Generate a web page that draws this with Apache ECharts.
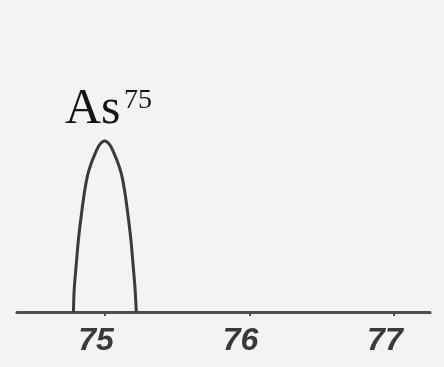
<!DOCTYPE html>
<html>
<head>
<meta charset="utf-8">
<script src="https://cdn.jsdelivr.net/npm/echarts@6/dist/echarts.min.js"></script>
<style>
  html, body { margin: 0; padding: 0; background: #f3f3f1; }
  #chart { width: 444px; height: 367px; }
</style>
</head>
<body>
<div id="chart"></div>
<script>
// mass / charge positions of the peak outline, and its relative intensity
const peakMz = [74.781, 74.786, 74.800, 74.815, 74.836, 74.859, 74.879, 74.900, 74.928, 74.959, 74.997,
  75.035, 75.066, 75.094, 75.115, 75.135, 75.158, 75.179, 75.194, 75.208, 75.216];
const peakIntensity = [0, 13, 27.5, 42, 57, 71, 80, 86, 92, 97.5, 100,
  97.5, 92, 86, 80, 71, 57, 42, 27.5, 13, 0];
const tickValues = [75, 76, 77];
const peakName = "As";
const peakMass = "75";

const chart = echarts.init(document.getElementById("chart"));

const option = {
  backgroundColor: "#f3f3f1",
  animation: false,
  grid: { left: 17, right: 14, top: 141, bottom: 55 },
  xAxis: {
    type: "value",
    min: 74.39,
    max: 77.25,
    splitLine: { show: false },
    axisLine: { onZero: false, lineStyle: { color: "#4d4d4d", width: 3 } },
    axisTick: {
      customValues: tickValues,
      length: 4,
      lineStyle: { color: "#4d4d4d", width: 2 }
    },
    axisLabel: {
      customValues: tickValues,
      formatter: (v) => String(Math.round(v)),
      color: "#3a3a3a",
      fontFamily: "Liberation Sans Narrow, Arial Narrow, sans-serif",
      fontWeight: "bold",
      fontStyle: "italic",
      fontSize: 32,
      lineHeight: 32,
      margin: 13,
      padding: [0, 18, 0, 0]
    }
  },
  yAxis: { type: "value", min: 0, max: 100, show: false },
  graphic: [
    {
      type: "text",
      left: 65,
      top: 85,
      style: {
        text: peakName,
        font: '50px "Liberation Serif", serif',
        fill: "#151515"
      }
    },
    {
      type: "text",
      left: 124,
      top: 87,
      style: {
        text: peakMass,
        font: '28px "Liberation Serif", serif',
        fill: "#151515"
      }
    }
  ],
  series: [
    {
      type: "line",
      data: peakMz.map((x, i) => [x, peakIntensity[i]]),
      showSymbol: false,
      smooth: 0.3,
      clip: false,
      lineStyle: { color: "#3a3a3a", width: 3 }
    }
  ]
};

chart.setOption(option);
</script>
</body>
</html>
